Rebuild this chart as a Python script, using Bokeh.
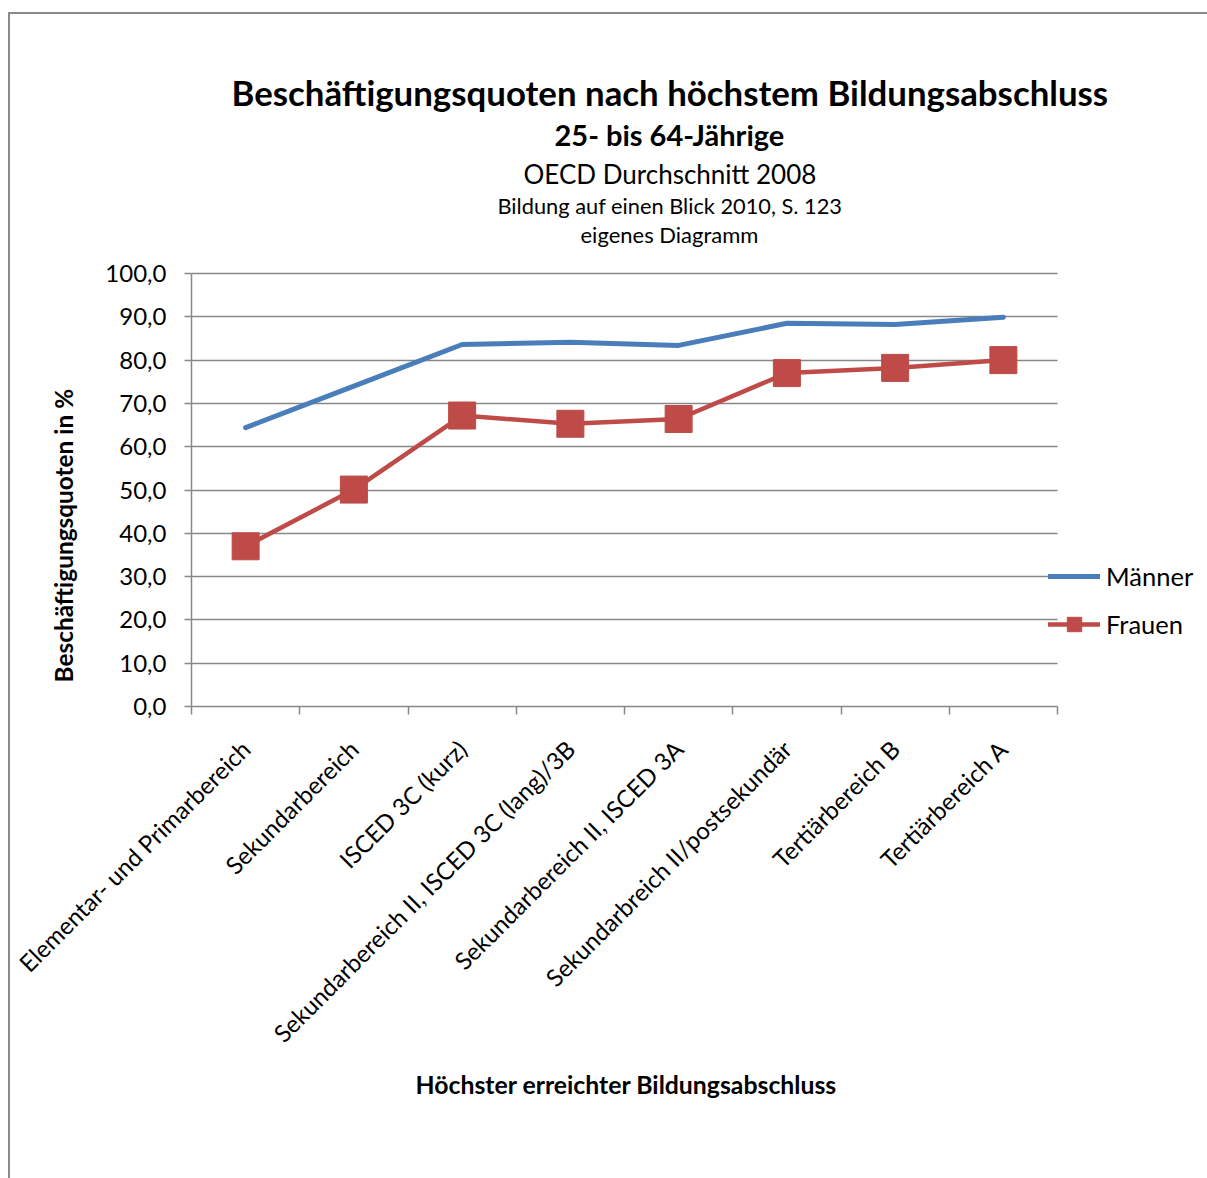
import math
from bokeh.plotting import figure
from bokeh.models import (Range1d, FixedTicker, Legend, LegendItem, Title,
                          ColumnDataSource)
from bokeh.embed import file_html
from bokeh.resources import INLINE

categories = [
    "Elementar- und Primarbereich",
    "Sekundarbereich",
    "ISCED 3C (kurz)",
    "Sekundarbereich II, ISCED 3C (lang)/3B",
    "Sekundarbereich II, ISCED 3A",
    "Sekundarbreich II/postsekundär",
    "Tertiärbereich B",
    "Tertiärbereich A",
]
maenner = [64.4, 74.0, 83.6, 84.1, 83.4, 88.5, 88.2, 89.9]
frauen = [37.0, 50.1, 67.2, 65.3, 66.4, 77.0, 78.2, 80.0]
y_ticks = [0, 10, 20, 30, 40, 50, 60, 70, 80, 90, 100]
y_tick_labels = ["0,0", "10,0", "20,0", "30,0", "40,0", "50,0", "60,0",
                 "70,0", "80,0", "90,0", "100,0"]

FONT = "Lato"
GRID = "#888888"
BLUE = "#4A7EBB"
RED = "#BE4B48"

n = len(categories)
x_pos = [i + 0.5 for i in range(n)]
src = ColumnDataSource(dict(x=x_pos, m=maenner, f=frauen))

# plot frame spans to the right edge so the legend can sit inside it;
# the category axis itself covers 0..n (866 px of the 1016 px frame).
# The frame also reaches 26 px above the 100 line (gap below the titles).
x_end = n * 1016 / 866
y_end = 100 * 459 / 433

p = figure(width=1207, height=1178, output_backend="svg", toolbar_location=None,
           title=None,
           x_range=Range1d(0, x_end), y_range=Range1d(0, y_end),
           min_border_left=191, min_border_right=0,
           min_border_top=247, min_border_bottom=472)
p.outline_line_color = None
p.background_fill_color = "white"
p.border_fill_color = None
p.styles = {
    "background-color": "white",
    "background-image": "linear-gradient(#8a8a8a, #8a8a8a), linear-gradient(#8a8a8a, #8a8a8a)",
    "background-size": "2px 100%, 100% 2px",
    "background-position": "8px 12px, 8px 12px",
    "background-repeat": "no-repeat",
}

# x axis
p.xaxis.bounds = (0, n)
p.xaxis.ticker = FixedTicker(ticks=x_pos, minor_ticks=list(range(n + 1)))
p.xaxis.major_label_overrides = {x: c for x, c in zip(x_pos, categories)}
p.xaxis.major_label_orientation = math.pi / 4
p.xaxis.major_tick_out = 0
p.xaxis.major_tick_in = 0
p.xaxis.minor_tick_out = 8
p.xaxis.minor_tick_in = 0
p.xaxis.minor_tick_line_color = GRID
p.xaxis.minor_tick_line_width = 1.5
p.xaxis.major_label_standoff = 30
p.xaxis.major_label_text_font = FONT
p.xaxis.major_label_text_font_size = "24px"
p.xaxis.major_label_text_color = "black"
p.xaxis.axis_line_color = GRID
p.xaxis.axis_line_width = 1.5

# x axis title (below the category labels, centred under the category span)
p.add_layout(Title(text="Höchster erreichter Bildungsabschluss", align="left",
                   offset=224, standoff=18, vertical_align="top",
                   text_font=FONT, text_font_size="24.8px",
                   text_font_style="bold", text_color="black"), "below")

# y axis
p.yaxis.bounds = (0, 100)
p.yaxis.ticker = FixedTicker(ticks=y_ticks, minor_ticks=[])
p.yaxis.major_label_overrides = {t: l for t, l in zip(y_ticks, y_tick_labels)}
p.yaxis.major_tick_out = 7
p.yaxis.major_tick_in = 0
p.yaxis.major_tick_line_color = GRID
p.yaxis.major_tick_line_width = 1.5
p.yaxis.minor_tick_line_color = None
p.yaxis.major_label_standoff = 18
p.yaxis.major_label_text_font = FONT
p.yaxis.major_label_text_font_size = "24px"
p.yaxis.major_label_text_color = "black"
p.yaxis.axis_line_color = GRID
p.yaxis.axis_line_width = 1.5

p.xgrid.grid_line_color = None
grid = p.ygrid[0]
if "cross_bounds" in grid.properties():
    grid.ticker = FixedTicker(ticks=y_ticks)
    grid.cross_bounds = (0, n)
    grid.grid_line_color = GRID
    grid.grid_line_width = 1.5
else:
    grid.grid_line_color = None
    p.segment(x0=[0] * len(y_ticks), x1=[n] * len(y_ticks), y0=y_ticks, y1=y_ticks,
              line_color=GRID, line_width=1.5, level="underlay")

# data
lm = p.line("x", "m", source=src, line_color=BLUE, line_width=5, line_cap="round")
lf = p.line("x", "f", source=src, line_color=RED, line_width=4.5, line_cap="round")
sf = p.scatter("x", "f", source=src, marker="square", size=27,
               fill_color=RED, line_color=RED)

legend = Legend(items=[LegendItem(label="Männer", renderers=[lm]),
                       LegendItem(label="Frauen", renderers=[lf, sf])],
                location=(857, 64), orientation="vertical",
                background_fill_alpha=0, border_line_color=None,
                padding=0, margin=0, spacing=12, glyph_width=52, glyph_height=36,
                label_height=20, label_standoff=6,
                label_text_font=FONT, label_text_font_size="25.5px",
                label_text_color="black", label_text_baseline="middle")
p.add_layout(legend, "center")

# titles, stacked outward from the plot frame
def add_title(text, size, bold, standoff, offset):
    p.add_layout(Title(text=text, align="left", offset=offset, standoff=standoff,
                       text_font=FONT, text_font_size=size,
                       text_font_style="bold" if bold else "normal",
                       text_color="black"), "above")

add_title("eigenes Diagramm", "22px", False, 0, 389)
add_title("Bildung auf einen Blick 2010, S. 123", "21.8px", False, 0, 306)
add_title("OECD  Durchschnitt 2008", "26px", False, 0, 332)
add_title("25- bis 64-Jährige", "29px", True, 8, 363)
add_title("Beschäftigungsquoten nach höchstem Bildungsabschluss", "34.8px", True, -5, 40)

p.add_layout(Title(text="Beschäftigungsquoten in %", align="left", offset=24,
                   standoff=49, text_font=FONT, text_font_size="24.4px",
                   text_font_style="bold", text_color="black"), "left")

open("out.html", "w").write(file_html(p, INLINE))
